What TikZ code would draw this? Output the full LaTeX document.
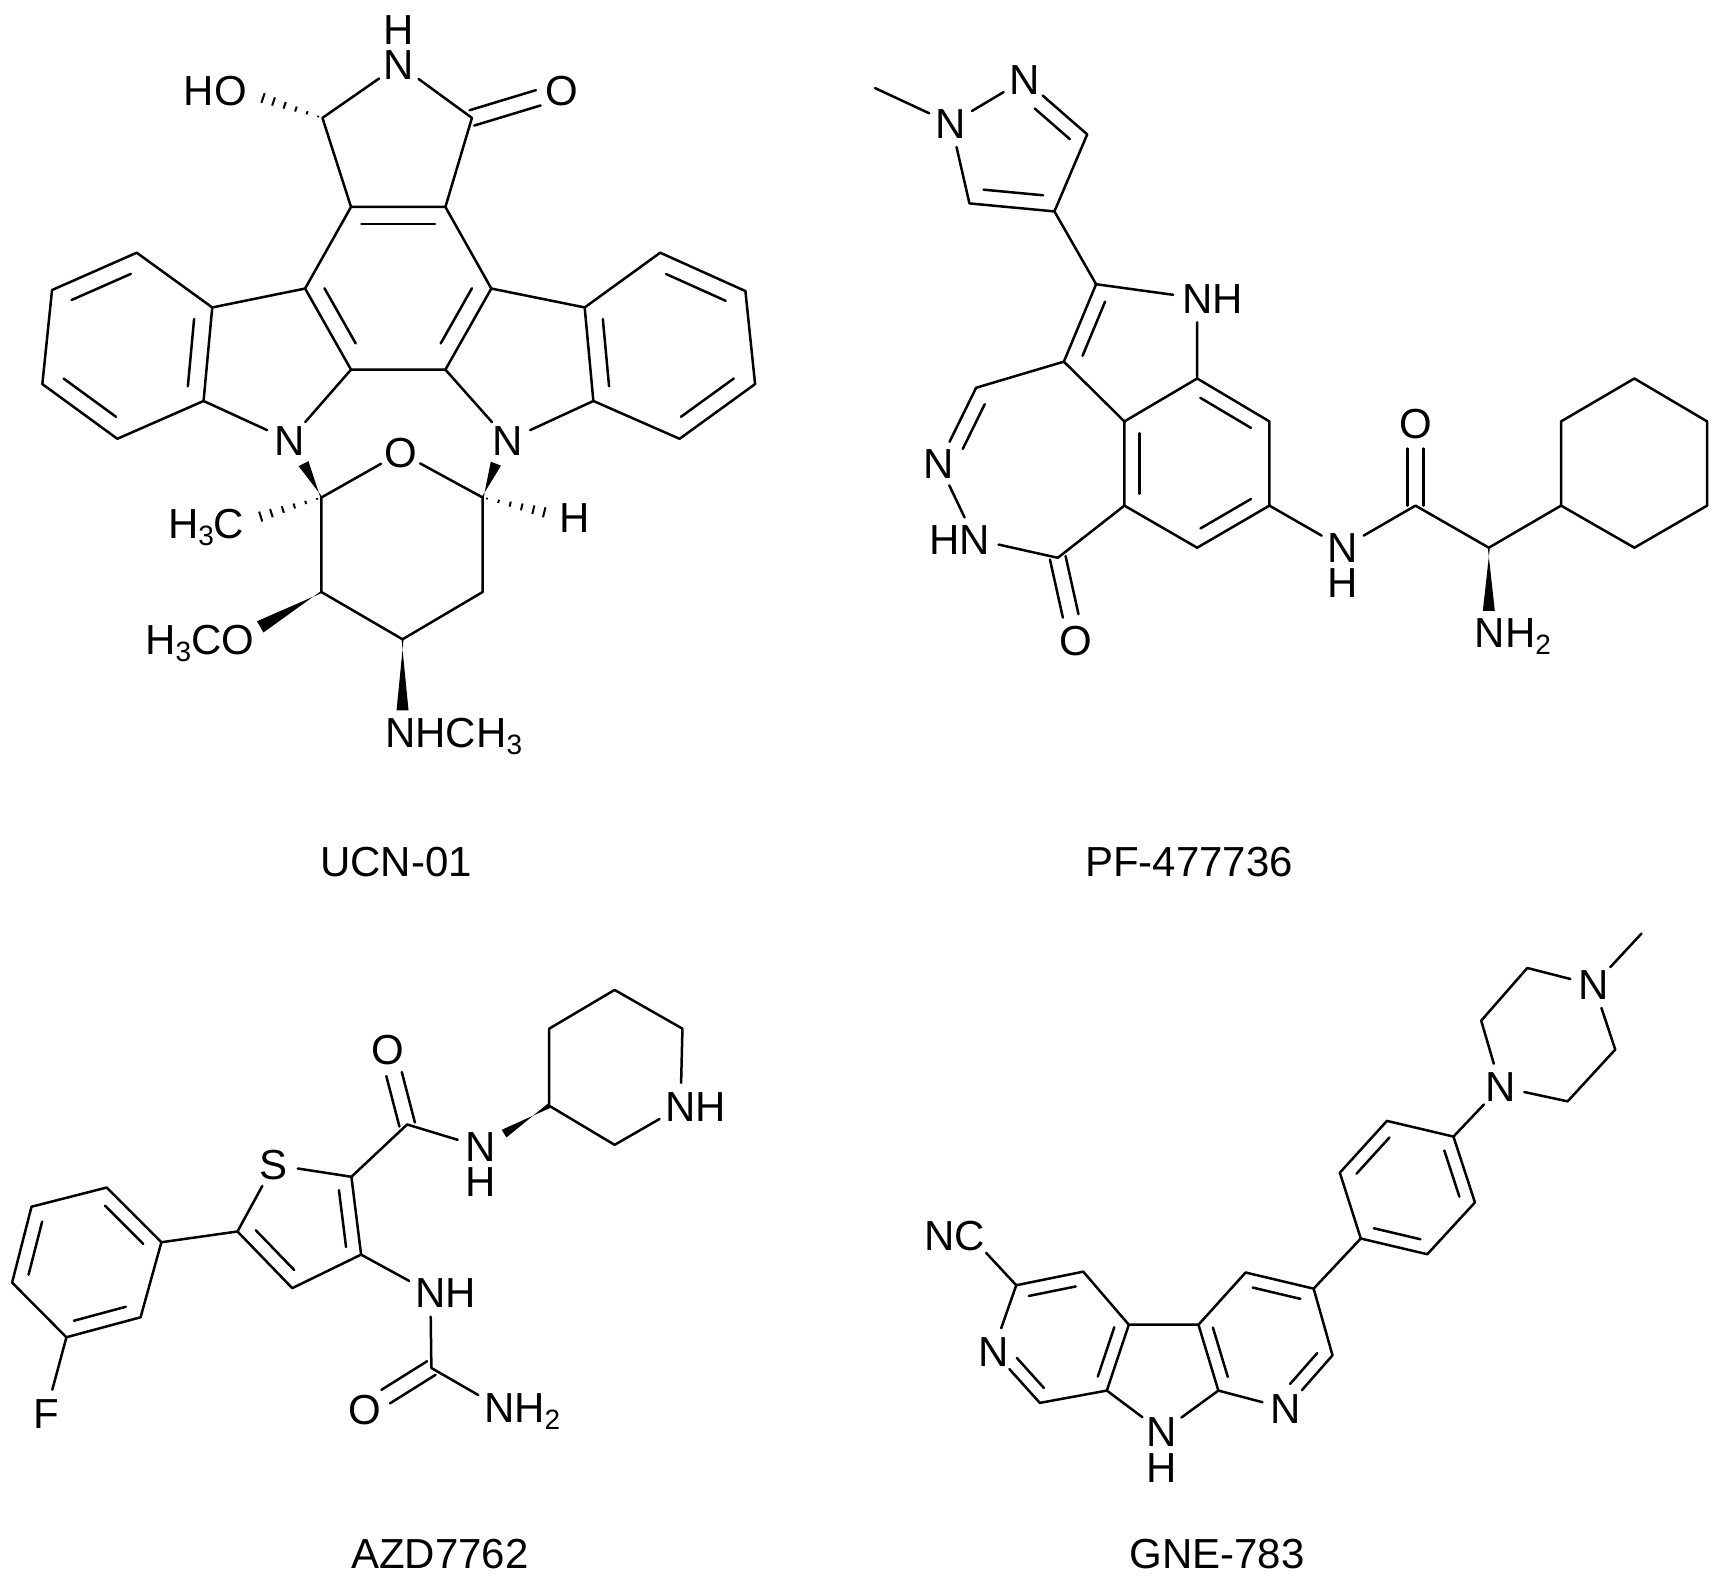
\documentclass[tikz,border=0pt]{standalone}
\usepackage{fontspec}
\setmainfont{Liberation Sans}
\usetikzlibrary{calc}
\newcommand\dn[1]{\raisebox{-7pt}{\fontsize{28}{28}\selectfont #1}}
% inner line of a double bond, on the left of a->b
\newcommand\dbl[5]{\draw[bond] ($(#1)!#4!(#2)!#3pt!90:(#2)$) -- ($(#2)!#5!(#1)!#3pt!-90:(#1)$);}
% C=O : two lines either side of the axis, stopping short of the O
\newcommand\dco[2]{%
  \draw[bond] ($(#1)!8pt!90:(#2)$) -- ($(#2)!25pt!(#1)!8pt!-90:(#1)$);
  \draw[bond] ($(#1)!8pt!-90:(#2)$) -- ($(#2)!25pt!(#1)!8pt!90:(#1)$);}
\newcommand\wedgeb[3]{\fill ($(#1)!1pt!90:(#2)$) -- ($(#2)!#3pt!90:(#1)$) -- ($(#2)!#3pt!-90:(#1)$) -- ($(#1)!1pt!-90:(#2)$) -- cycle;}
\newcommand\hashb[3]{\foreach \t in {0.06,0.22,0.38,0.54,0.70,0.85,1.0}{%
  \pgfmathsetmacro\w{#3*\t+0.5}%
  \draw[line width=2pt] ($(#1)!\t!(#2)!\w pt!90:(#2)$) -- ($(#1)!\t!(#2)!\w pt!-90:(#2)$);}}
\tikzset{
  bond/.style={line width=2.5pt,line cap=round,line join=round,black},
  atom/.style={circle,inner sep=0pt,minimum size=48pt,text height=30pt,text depth=0pt,
    font=\fontsize{42}{44}\selectfont,text=black},
  oatom/.style={atom,minimum size=44pt},
  hlabel/.style={inner sep=0pt,text height=30pt,text depth=0pt,
    font=\fontsize{42}{44}\selectfont,text=black},
  caption/.style={inner sep=0pt,text height=30pt,text depth=0pt,
    font=\fontsize{42}{44}\selectfont,text=black},
}
\begin{document}
\begin{tikzpicture}[x=1pt,y=-1pt]
\useasboundingbox (0,0) rectangle (1721,1586);
% ---------- UCN-01 ----------
\begin{scope}[x=0.5102pt,y=-0.4975pt]
\node[atom] (aNH) at (782,130) {N};
\node[hlabel] (aHt) at (782,60) {H};
\node[oatom] (aHO) at (452,182) {\llap{H}O};
\node[oatom] (aO1) at (1102,182) {O};
\node[atom] (aNl) at (567,885) {N};
\node[atom] (aNr) at (996,885) {N};
\node[oatom] (aO2) at (785,910) {O};
\node[hlabel] (aH) at (1126,1040) {H};
\node[atom] (aMe) at (449,1052) {\llap{H\dn{3}}C};
\node[oatom] (aOMe) at (466,1285) {\llap{H\dn{3}C}O};
\node[atom] (aNM) at (785,1473) {N\rlap{HCH\dn{3}}};
\path coordinate (c1) at (632,237) coordinate (c2) at (925,237)
 coordinate (c3) at (688,416) coordinate (c4) at (873,416)
 coordinate (c5) at (598,580) coordinate (c6) at (963,580)
 coordinate (c7) at (688,743) coordinate (c8) at (873,743)
 coordinate (l1) at (416,618) coordinate (l2) at (268,508) coordinate (l3) at (102,583)
 coordinate (l4) at (83,772) coordinate (l5) at (230,882) coordinate (l6) at (399,806)
 coordinate (r1) at (1146,618) coordinate (r2) at (1294,508) coordinate (r3) at (1461,585)
 coordinate (r4) at (1480,772) coordinate (r5) at (1332,882) coordinate (r6) at (1163,806)
 coordinate (s1) at (630,1000) coordinate (s2) at (946,1000) coordinate (s3) at (946,1190)
 coordinate (s4) at (789,1285) coordinate (s5) at (630,1190)
 coordinate (wNl) at (595,932) coordinate (wNr) at (972,932)
 coordinate (hOH) at (495,190) coordinate (hMe) at (490,1045) coordinate (hH) at (1088,1035)
 coordinate (wOMe) at (510,1260) coordinate (wNM) at (789,1428);
\end{scope}
% ---------- PF-477736 ----------
\begin{scope}[shift={(850pt,-30pt)},x=0.5555pt,y=-0.4209pt]
\node[atom] (bN1) at (182,222) {N};
\node[atom] (bN2) at (314,118) {N};
\node[atom] (bNH) at (625,637) {N\rlap{H}};
\node[atom] (bN3) at (160,1030) {N};
\node[atom] (bHN) at (225,1210) {\llap{H}N};
\node[oatom] (bO1) at (407,1450) {O};
\node[atom] (bNa) at (887,1230) {N};
\node[hlabel] (bHa) at (887,1312) {H};
\node[oatom] (bO2) at (1018,935) {O};
\node[atom] (bNH2) at (1152,1432) {N\rlap{H\dn{2}}};
\path coordinate (m0) at (45,138) coordinate (p3) at (427,248) coordinate (p4) at (368,431)
 coordinate (p5) at (215,412) coordinate (d6) at (443,604) coordinate (d7) at (385,788)
 coordinate (d8) at (625,828) coordinate (d9) at (755,930) coordinate (d10) at (755,1130)
 coordinate (d11) at (625,1230) coordinate (d12) at (494,1130) coordinate (d13) at (494,930)
 coordinate (d14) at (227,850) coordinate (d16) at (374,1254) coordinate (d17) at (1018,1130)
 coordinate (d18) at (1150,1230) coordinate (h1) at (1280,1130) coordinate (h2) at (1280,930)
 coordinate (h3) at (1412,828) coordinate (h4) at (1543,930) coordinate (h5) at (1543,1130)
 coordinate (h6) at (1412,1230) coordinate (wNH2) at (1150,1380);
\end{scope}
% ---------- AZD7762 ----------
\begin{scope}[shift={(0pt,-960pt)},x=0.4847pt,y=-0.3992pt]
\node[atom] (cNP) at (1404,368) {N\rlap{H}};
\node[atom] (cNa) at (992,468) {N};
\node[hlabel] (cHa) at (992,555) {H};
\node[oatom] (cO1) at (800,225) {O};
\node[atom] (cS) at (565,513) {S};
\node[atom] (cNH) at (888,833) {N\rlap{H}};
\node[oatom] (cO2) at (752,1127) {O};
\node[atom] (cNH2) at (1030,1120) {N\rlap{H\dn{2}}};
\node[atom] (cF) at (95,1135) {F};
\path coordinate (e1) at (1133,365) coordinate (e2) at (1133,172) coordinate (e3) at (1268,75)
 coordinate (e4) at (1408,172) coordinate (e5) at (1268,463) coordinate (wNa) at (1040,435)
 coordinate (f0) at (840,412) coordinate (t1) at (725,543) coordinate (t2) at (745,738)
 coordinate (t3) at (603,822) coordinate (t4) at (490,680)
 coordinate (g1) at (333,707) coordinate (g2) at (220,570) coordinate (g3) at (65,618)
 coordinate (g4) at (25,808) coordinate (g5) at (137,945) coordinate (g6) at (290,895)
 coordinate (u) at (890,1022);
\end{scope}
% ---------- GNE-783 ----------
\begin{scope}[shift={(900pt,-920pt)},x=0.5236pt,y=-0.4247pt]
\node[atom] (dN1) at (1325,153) {N};
\node[atom] (dN2) at (1147,393) {N};
\node[atom] (dN3) at (737,1150) {N};
\node[atom] (dN4) at (178,1015) {N};
\node[atom] (dN5) at (500,1205) {N};
\node[hlabel] (dH5) at (500,1290) {H};
\node[atom] (dNC) at (133,742) {\llap{N}C};
\path coordinate (k0) at (1416,32) coordinate (k1) at (1198,113) coordinate (k2) at (1110,237)
 coordinate (k3) at (1275,427) coordinate (k4) at (1366,305)
 coordinate (q1) at (1057,510) coordinate (q2) at (930,473) coordinate (q3) at (840,595)
 coordinate (q4) at (880,750) coordinate (q5) at (1007,787) coordinate (q6) at (1098,665)
 coordinate (v1) at (790,868) coordinate (v2) at (660,830) coordinate (v3) at (570,953)
 coordinate (v4) at (608,1108) coordinate (v6) at (826,1025)
 coordinate (w1) at (437,953) coordinate (w2) at (350,828) coordinate (w3) at (222,860)
 coordinate (w5) at (267,1137) coordinate (w6) at (395,1108);
\end{scope}
% captions
\node[caption] (capA) at (396,861) {UCN-01};
\node[caption] (capB) at (1189,861) {PF-477736};
\node[caption] (capC) at (440,1553) {AZD7762};
\node[caption] (capD) at (1217,1553) {GNE-783};
% ---------- bonds UCN-01 ----------
\draw[bond] (c3)--(c1)--(aNH)--(c2)--(c4)--(c3)--(c5)--(c7)--(c8)--(c6)--(c4);
\draw[bond] (c5)--(l1)--(l2)--(l3)--(l4)--(l5)--(l6)--(l1);
\draw[bond] (c6)--(r1)--(r2)--(r3)--(r4)--(r5)--(r6)--(r1);
\draw[bond] (l6)--(aNl)--(c7); \draw[bond] (r6)--(aNr)--(c8);
\draw[bond] (s1)--(aO2)--(s2)--(s3)--(s4)--(s5)--(s1);
\dco{c2}{aO1}
\dbl{c4}{c3}{17}{.11}{.11}
\dbl{c5}{c7}{17}{.1}{.22}
\dbl{c8}{c6}{17}{.22}{.1}
\dbl{l2}{l3}{17}{.15}{.15}
\dbl{l6}{l1}{17}{.14}{.14}
\dbl{l4}{l5}{17}{.15}{.15}
\dbl{r1}{r6}{17}{.14}{.14}
\dbl{r3}{r2}{17}{.15}{.15}
\dbl{r5}{r4}{17}{.15}{.15}
\wedgeb{s1}{wNl}{5.5}
\wedgeb{s2}{wNr}{5.5}
\wedgeb{s5}{wOMe}{6.5}
\wedgeb{s4}{wNM}{6}
\hashb{c1}{hOH}{5.5}
\hashb{s1}{hMe}{5.5}
\hashb{s2}{hH}{5.5}
% ---------- bonds PF-477736 ----------
\draw[bond] (m0)--(bN1)--(bN2)--(p3)--(p4)--(p5)--(bN1);
\draw[bond] (p4)--(d6)--(bNH)--(d8)--(d9)--(d10)--(d11)--(d12)--(d13)--(d8);
\draw[bond] (d6)--(d7)--(d13); \draw[bond] (d7)--(d14)--(bN3)--(bHN)--(d16)--(d12);
\draw[bond] (d10)--(bNa)--(d17)--(d18)--(h1)--(h2)--(h3)--(h4)--(h5)--(h6)--(h1);
\dco{d16}{bO1}
\dco{d17}{bO2}
\dbl{p3}{bN2}{15}{.12}{.32}
\dbl{p5}{p4}{15}{.15}{.15}
\dbl{d6}{d7}{15}{.15}{.15}
\dbl{d9}{d8}{15}{.15}{.15}
\dbl{d11}{d10}{15}{.15}{.15}
\dbl{d13}{d12}{15}{.14}{.14}
\dbl{d14}{bN3}{15}{.13}{.28}
\wedgeb{d18}{wNH2}{6}
% ---------- bonds AZD7762 ----------
\draw[bond] (e1)--(e2)--(e3)--(e4)--(cNP)--(e5)--(e1);
\draw[bond] (cNa)--(f0)--(t1)--(cS)--(t4)--(t3)--(t2)--(t1);
\draw[bond] (t4)--(g1)--(g2)--(g3)--(g4)--(g5)--(g6)--(g1);
\draw[bond] (g5)--(cF); \draw[bond] (t2)--(cNH)--(u)--(cNH2);
\dco{f0}{cO1}
\dco{u}{cO2}
\dbl{t2}{t1}{14}{.12}{.15}
\dbl{t4}{t3}{14}{.15}{.15}
\dbl{g1}{g2}{14}{.15}{.15}
\dbl{g3}{g4}{14}{.15}{.15}
\dbl{g5}{g6}{14}{.15}{.15}
\fill ($(e1)!2.5pt!90:(wNa)$) -- ($(wNa)!4.5pt!90:(e1)$) -- ($(wNa)!4.5pt!-90:(e1)$) -- ($(e1)!2.5pt!-90:(wNa)$) -- cycle;
% ---------- bonds GNE-783 ----------
\draw[bond] (k0)--(dN1)--(k1)--(k2)--(dN2)--(k3)--(k4)--(dN1);
\draw[bond] (dN2)--(q1)--(q2)--(q3)--(q4)--(q5)--(q6)--(q1);
\draw[bond] (q4)--(v1)--(v2)--(v3)--(v4)--(dN3)--(v6)--(v1);
\draw[bond] (v3)--(w1)--(w2)--(w3)--(dN4)--(w5)--(w6)--(w1);
\draw[bond] (w6)--(dN5)--(v4); \draw[bond] (w3)--(dNC);
\dbl{q6}{q1}{13}{.15}{.15}
\dbl{q2}{q3}{13}{.15}{.15}
\dbl{q4}{q5}{13}{.15}{.15}
\dbl{v1}{v2}{13}{.15}{.15}
\dbl{v3}{v4}{13}{.1}{.15}
\dbl{dN3}{v6}{13}{.3}{.12}
\dbl{w6}{w1}{13}{.15}{.1}
\dbl{w2}{w3}{13}{.15}{.15}
\dbl{dN4}{w5}{13}{.3}{.12}
\end{tikzpicture}
\end{document}
